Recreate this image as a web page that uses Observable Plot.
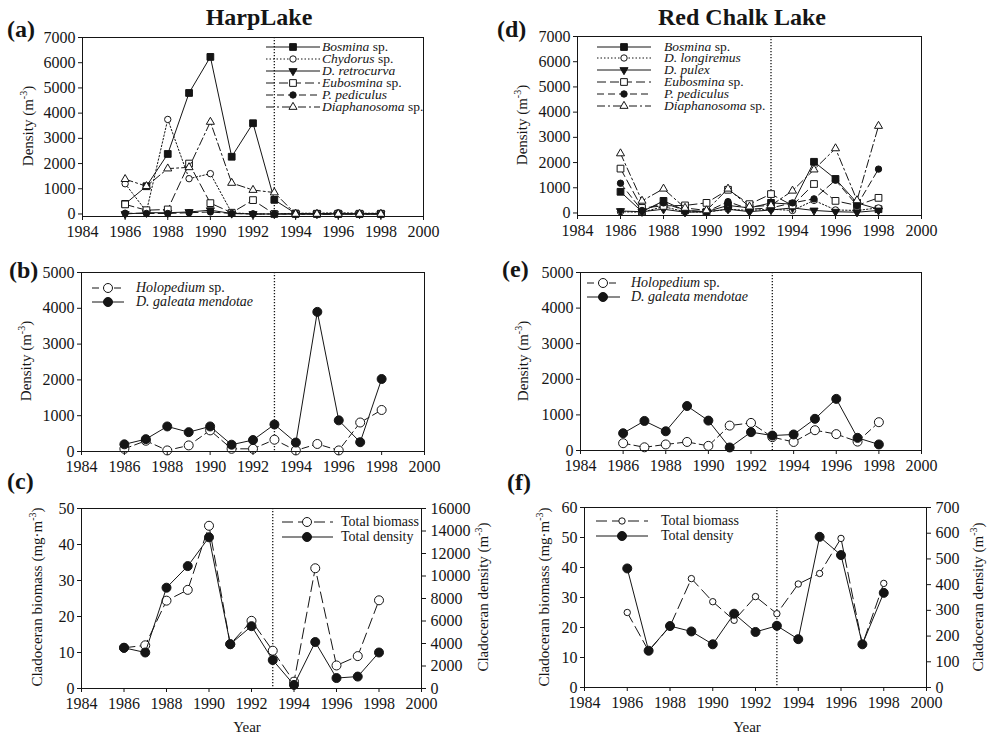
<!DOCTYPE html>
<html><head><meta charset="utf-8">
<script src="https://cdn.jsdelivr.net/npm/d3@7"></script>
<script src="https://cdn.jsdelivr.net/npm/@observablehq/plot@0.6"></script>
<style>
body{margin:0;background:#fff}
#root{position:relative;width:989px;height:736px;overflow:hidden;background:#fff}
#root svg{position:absolute}
</style></head><body><div id="root"></div>
<script>
// ---------- data ----------
const years = [1986,1987,1988,1989,1990,1991,1992,1993,1994,1995,1996,1997,1998];
const xTickValues = [1984,1986,1988,1990,1992,1994,1996,1998,2000];
const yTicks7000 = [0,1000,2000,3000,4000,5000,6000,7000];
const yTicks5000 = [0,1000,2000,3000,4000,5000];
const harpBiomassTicks = [0,10,20,30,40,50];
const harpDensityTicks = [0,2000,4000,6000,8000,10000,12000,14000,16000];
const rcBiomassTicks = [0,10,20,30,40,50,60];
const rcDensityTicks = [0,100,200,300,400,500,600,700];

// (a) Harp Lake, density m^-3
const harpBosmina      = [400,1100,2380,4800,6230,2270,3600,560,20,10,10,10,10];
const harpChydorus     = [1200,100,3750,1400,1600,50,0,0,30,30,50,30,30];
const harpRetrocurva   = [0,50,50,80,150,20,0,0,0,0,0,0,0];
const harpEubosmina    = [380,150,180,2000,430,50,550,0,0,0,0,0,0];
const harpPediculus    = [30,20,20,50,80,20,0,0,0,0,0,0,0];
const harpDiaphanosoma = [1380,1100,1800,1850,3650,1230,950,850,0,0,0,0,0];
// (d) Red Chalk Lake
const rcBosmina      = [840,50,480,100,50,300,200,400,350,2030,1350,400,150];
const rcLongiremus   = [50,30,250,50,30,150,100,150,100,500,120,100,200];
const rcPulex        = [80,50,150,30,50,150,50,120,200,100,50,30,100];
const rcEubosmina    = [1760,200,280,300,400,920,350,750,300,1150,480,300,600];
const rcPediculus    = [1180,100,400,100,50,450,150,200,400,560,1300,300,1740];
const rcDiaphanosoma = [2360,480,960,200,100,960,250,300,880,1720,2560,500,3450];
// (b) Harp, (e) Red Chalk
const harpHolopedium = [75,300,30,170,590,75,75,330,30,210,30,810,1160];
const harpGaleata    = [200,345,700,540,700,190,320,755,250,3900,870,260,2025];
const rcHolopedium   = [205,90,170,240,130,700,775,375,240,570,460,250,795];
const rcGaleata      = [485,830,540,1250,840,85,515,420,450,890,1450,355,170];
// (c) Harp totals, (f) Red Chalk totals
const harpBiomass = [11.3,12.0,24.4,27.4,45.2,12.3,18.8,10.5,1.9,33.4,6.4,9.0,24.5];
const harpDensity = [3620,3200,8960,10880,13440,3940,5540,2530,320,4130,930,1060,3200];
const rcBiomass   = [25.0,12.2,20.4,36.3,28.6,22.4,30.3,24.6,34.5,38.0,49.7,14.3,34.7];
const rcDensity   = [463,143,239,218,168,287,216,240,188,586,515,168,368];

// ---------- styles ----------
const INK = "#151515";
const FONT = "'Liberation Serif','Times New Roman',Times,serif";
const invTriangle = {draw(context, size) {
  const y = -Math.sqrt(size / (Math.sqrt(3) * 3));
  context.moveTo(0, -y * 2);
  context.lineTo(-Math.sqrt(3) * y, y);
  context.lineTo(Math.sqrt(3) * y, y);
  context.closePath();
}};
const symbolMap = {square: d3.symbolSquare, circle: d3.symbolCircle, triangle: d3.symbolTriangle};
const table = vals => years.map((year, i) => ({year, value: vals[i]}));

const root = document.getElementById("root");

function seriesMarks(s, scale = 1) {
  const data = table(s.values);
  const lineOpts = {x: "year", y: d => d.value * scale, stroke: INK, strokeWidth: 1};
  if (s.dash) lineOpts.strokeDasharray = s.dash;
  return [
    Plot.line(data, lineOpts),
    Plot.dot(data, {x: "year", y: d => d.value * scale, symbol: s.symbol, r: s.r, fill: s.fill, stroke: INK, strokeWidth: 1})
  ];
}

function panel({left, top, width, height, mt, mb, ml, mr, ydomain, yticks, series, right}) {
  const marks = [
    Plot.ruleX([1993], {stroke: INK, strokeWidth: 1.3, strokeDasharray: "1.2,1.8"})
  ];
  series.forEach(s => marks.push(...seriesMarks(s, s.scale || 1)));
  marks.push(
    Plot.frame({stroke: INK, strokeWidth: 1}),
    Plot.axisX({ticks: xTickValues, tickSize: 4, tickPadding: 5, tickFormat: d => String(d), label: null}),
    Plot.axisY({ticks: yticks, tickSize: 4, tickPadding: 3, tickFormat: d => String(d), label: null})
  );
  if (right) {
    marks.push(Plot.axisY(right.ticks.map(v => v * right.k), {anchor: "right", tickSize: 4, tickPadding: 5,
      tickFormat: v => String(Math.round(v / right.k)), label: null}));
  }
  const svg = Plot.plot({
    width, height, marginTop: mt, marginBottom: mb, marginLeft: ml, marginRight: mr,
    x: {domain: [1984, 2000]},
    y: {domain: ydomain},
    style: {fontFamily: FONT, fontSize: "16px", color: INK, background: "transparent", overflow: "visible"},
    marks
  });
  svg.style.left = left + "px";
  svg.style.top = top + "px";
  svg.style.maxWidth = "none";
  root.appendChild(svg);
}

const harpSeries = [
  {values: harpBosmina, dash: null, symbol: "square", fill: INK, r: 3.8, name: [["Bosmina",1],["\u00A0sp.",0]]},
  {values: harpChydorus, dash: "1.5,2", symbol: "circle", fill: "white", r: 3.2, name: [["Chydorus",1],["\u00A0sp.",0]]},
  {values: harpRetrocurva, dash: null, symbol: invTriangle, fill: INK, r: 3.0, name: [["D. retrocurva",1]]},
  {values: harpEubosmina, dash: "9,4", symbol: "square", fill: "white", r: 3.8, name: [["Eubosmina",1],["\u00A0sp.",0]]},
  {values: harpPediculus, dash: "7,4", symbol: "circle", fill: INK, r: 3.2, name: [["P. pediculus",1]]},
  {values: harpDiaphanosoma, dash: "8,3,2,3", symbol: "triangle", fill: "white", r: 3.0, name: [["Diaphanosoma",1],["\u00A0sp.",0]]}
];
const rcSeries = [
  {values: rcBosmina, dash: null, symbol: "square", fill: INK, r: 3.8, name: [["Bosmina",1],["\u00A0sp.",0]]},
  {values: rcLongiremus, dash: "1.5,2", symbol: "circle", fill: "white", r: 3.2, name: [["D. longiremus",1]]},
  {values: rcPulex, dash: null, symbol: invTriangle, fill: INK, r: 3.0, name: [["D. pulex",1]]},
  {values: rcEubosmina, dash: "9,4", symbol: "square", fill: "white", r: 3.8, name: [["Eubosmina",1],["\u00A0sp.",0]]},
  {values: rcPediculus, dash: "7,4", symbol: "circle", fill: INK, r: 3.2, name: [["P. pediculus",1]]},
  {values: rcDiaphanosoma, dash: "8,3,2,3", symbol: "triangle", fill: "white", r: 3.0, name: [["Diaphanosoma",1],["\u00A0sp.",0]]}
];
const harpBE = [
  {values: harpHolopedium, dash: "7,4", symbol: "circle", fill: "white", r: 4.5, name: [["Holopedium",1],["\u00A0sp.",0]]},
  {values: harpGaleata, dash: null, symbol: "circle", fill: INK, r: 4.5, name: [["D. galeata mendotae",1]]}
];
const rcBE = [
  {values: rcHolopedium, dash: "7,4", symbol: "circle", fill: "white", r: 4.5, name: [["Holopedium",1],["\u00A0sp.",0]]},
  {values: rcGaleata, dash: null, symbol: "circle", fill: INK, r: 4.5, name: [["D. galeata mendotae",1]]}
];
const harpK = 50 / 16000, rcK = 60 / 700;
const harpCF = [
  {values: harpBiomass, dash: "11,5", symbol: "circle", fill: "white", r: 4.5, name: [["Total biomass",0]]},
  {values: harpDensity, scale: harpK, dash: null, symbol: "circle", fill: INK, r: 4.5, name: [["Total density",0]]}
];
const rcCF = [
  {values: rcBiomass, dash: "11,5", symbol: "circle", fill: "white", r: 3.2, name: [["Total biomass",0]]},
  {values: rcDensity, scale: rcK, dash: null, symbol: "circle", fill: INK, r: 4.5, name: [["Total density",0]]}
];

panel({left: 0, top: 20, width: 440, height: 226, mt: 17, mb: 30, ml: 82, mr: 17, ydomain: [-100, 7000], yticks: yTicks7000, series: harpSeries});
panel({left: 495, top: 20, width: 445, height: 226, mt: 16, mb: 31, ml: 82, mr: 19, ydomain: [-100, 7000], yticks: yTicks7000, series: rcSeries});
panel({left: 0, top: 258, width: 440, height: 220, mt: 14, mb: 27, ml: 81, mr: 16, ydomain: [0, 5000], yticks: yTicks5000, series: harpBE});
panel({left: 495, top: 258, width: 445, height: 220, mt: 14, mb: 28, ml: 85, mr: 19, ydomain: [0, 5000], yticks: yTicks5000, series: rcBE});
panel({left: 0, top: 495, width: 480, height: 240, mt: 13, mb: 47, ml: 81, mr: 59, ydomain: [0, 50], yticks: harpBiomassTicks, series: harpCF, right: {ticks: harpDensityTicks, k: harpK}});
panel({left: 495, top: 495, width: 494, height: 240, mt: 12, mb: 48, ml: 89, mr: 63, ydomain: [0, 60], yticks: rcBiomassTicks, series: rcCF, right: {ticks: rcDensityTicks, k: rcK}});

// ---------- overlay: titles, labels, legends ----------
const ov = d3.select(root).append("svg").attr("width", 989).attr("height", 736)
  .style("left", "0px").style("top", "0px").style("pointer-events", "none")
  .attr("font-family", FONT).attr("fill", INK);

function txt(x, y, s, size, opts = {}) {
  return ov.append("text").attr("x", x).attr("y", y).attr("font-size", size)
    .attr("font-weight", opts.bold ? "bold" : null).attr("text-anchor", opts.anchor || "start").text(s);
}
txt(259, 25, "HarpLake", 24, {bold: 1, anchor: "middle"});
txt(742, 25, "Red Chalk Lake", 24, {bold: 1, anchor: "middle"});
txt(7, 37, "(a)", 24, {bold: 1});
txt(9, 278, "(b)", 24, {bold: 1});
txt(7, 489, "(c)", 24, {bold: 1});
txt(497, 37, "(d)", 24, {bold: 1});
txt(502, 277, "(e)", 24, {bold: 1});
txt(507, 490, "(f)", 24, {bold: 1});
txt(247, 732, "Year", 15, {anchor: "middle"});
txt(747, 732, "Year", 15, {anchor: "middle"});

function vlabel(x, y, before, sup, after) {
  const t = ov.append("text").attr("transform", `translate(${x},${y}) rotate(-90)`)
    .attr("text-anchor", "middle").attr("font-size", 15);
  t.append("tspan").text(before);
  t.append("tspan").attr("dy", -6).attr("font-size", 10).text(sup);
  t.append("tspan").attr("dy", 6).text(after);
}
vlabel(33, 126, "Density (m", "-3", ")");
vlabel(31, 361, "Density (m", "-3", ")");
vlabel(42, 597, "Cladoceran biomass (mg\u00B7m", "-3", ")");
vlabel(488, 597, "Cladoceran density (m", "-3", ")");
vlabel(527, 125, "Density (m", "-3", ")");
vlabel(528, 361, "Density (m", "-3", ")");
vlabel(549, 597, "Cladoceran biomass (mg\u00B7m", "-3", ")");
vlabel(983, 597, "Cladoceran density (m", "-3", ")");

function legend(items, x1, x2, xm, xt, ys, fs) {
  items.forEach((s, i) => {
    const y = ys[i];
    ov.append("line").attr("x1", x1).attr("x2", x2).attr("y1", y).attr("y2", y)
      .attr("stroke", INK).attr("stroke-width", 1).attr("stroke-dasharray", s.dash || null);
    const type = typeof s.symbol === "string" ? symbolMap[s.symbol] : s.symbol;
    ov.append("path").attr("d", d3.symbol(type, s.r * s.r * Math.PI)())
      .attr("transform", `translate(${xm},${y})`).attr("fill", s.fill).attr("stroke", INK).attr("stroke-width", 1);
    const t = ov.append("text").attr("x", xt).attr("y", y + 4).attr("font-size", fs);
    s.name.forEach(([str, it]) => t.append("tspan").attr("font-style", it ? "italic" : null).text(str));
  });
}
legend(harpSeries, 266, 320, 293, 322, [47, 59, 71, 83, 95, 107], 13.5);
legend(rcSeries, 597, 651, 624, 664, [47, 58, 70, 82, 94, 106], 13.5);
legend(harpBE, 92, 124, 108, 136, [288, 302], 14);
legend(rcBE, 587, 620, 603, 631, [283, 297], 14);
legend(harpCF, 282, 333, 307, 341, [522, 537], 14);
legend(rcCF, 596, 648, 622, 661, [521, 536], 14);
</script></body></html>
